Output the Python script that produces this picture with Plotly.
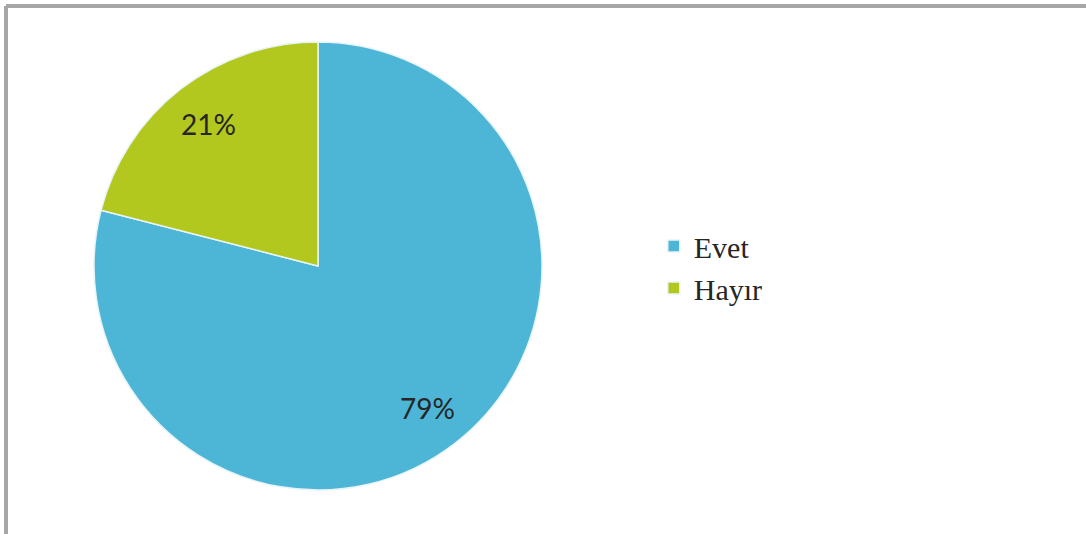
import math

import plotly.graph_objects as go

labels = ["Evet", "Hayır"]
values = [79, 21]
colors = ["#4DB6D7", "#B2C81E"]

W, H = 1086, 534
CX, CY, R = 318, 266, 224  # pie centre and radius in pixels

fig = go.Figure(
    go.Pie(
        labels=labels,
        values=values,
        sort=False,
        direction="clockwise",
        rotation=0,
        marker=dict(colors=colors, line=dict(color="#E8F4F8", width=1.5)),
        textinfo="none",
        hoverinfo="label+percent",
        domain=dict(x=[(CX - R) / W, (CX + R) / W], y=[1 - (CY + R) / H, 1 - (CY - R) / H]),
    )
)

# percentage labels sit at ~80% of the radius, on each slice's mid-angle
total = sum(values)
start = 90.0
annotations = []
for v in values:
    sweep = 360 * v / total
    mid = math.radians(start - sweep / 2)
    start -= sweep
    annotations.append(
        dict(
            text=f"{round(100 * v / total)}%",
            x=(CX + 0.8 * R * math.cos(mid)) / W,
            y=1 - (CY - 0.8 * R * math.sin(mid)) / H,
            xref="paper",
            yref="paper",
            xanchor="center",
            yanchor="middle",
            showarrow=False,
            font=dict(family="Lato", size=28, color="#262626"),
        )
    )

# grey frame along top and left edge
frame = dict(type="line", xref="paper", yref="paper", line=dict(color="#A6A6A6", width=4))
fig.update_layout(
    width=W,
    height=H,
    margin=dict(l=0, r=0, t=0, b=0),
    paper_bgcolor="white",
    plot_bgcolor="white",
    showlegend=True,
    legend=dict(
        x=0.602,
        y=0.5,
        xanchor="left",
        yanchor="middle",
        font=dict(family="Liberation Serif", size=30, color="#262626"),
        bgcolor="rgba(0,0,0,0)",
    ),
    annotations=annotations,
    shapes=[
        dict(frame, x0=6 / W, x1=6 / W, y0=0, y1=1 - 6 / H),
        dict(frame, x0=6 / W, x1=1, y0=1 - 6 / H, y1=1 - 6 / H),
    ],
)

fig.write_html(
    "out.html",
    config={"displayModeBar": False},
    post_script="document.body.style.margin='0';",
)
